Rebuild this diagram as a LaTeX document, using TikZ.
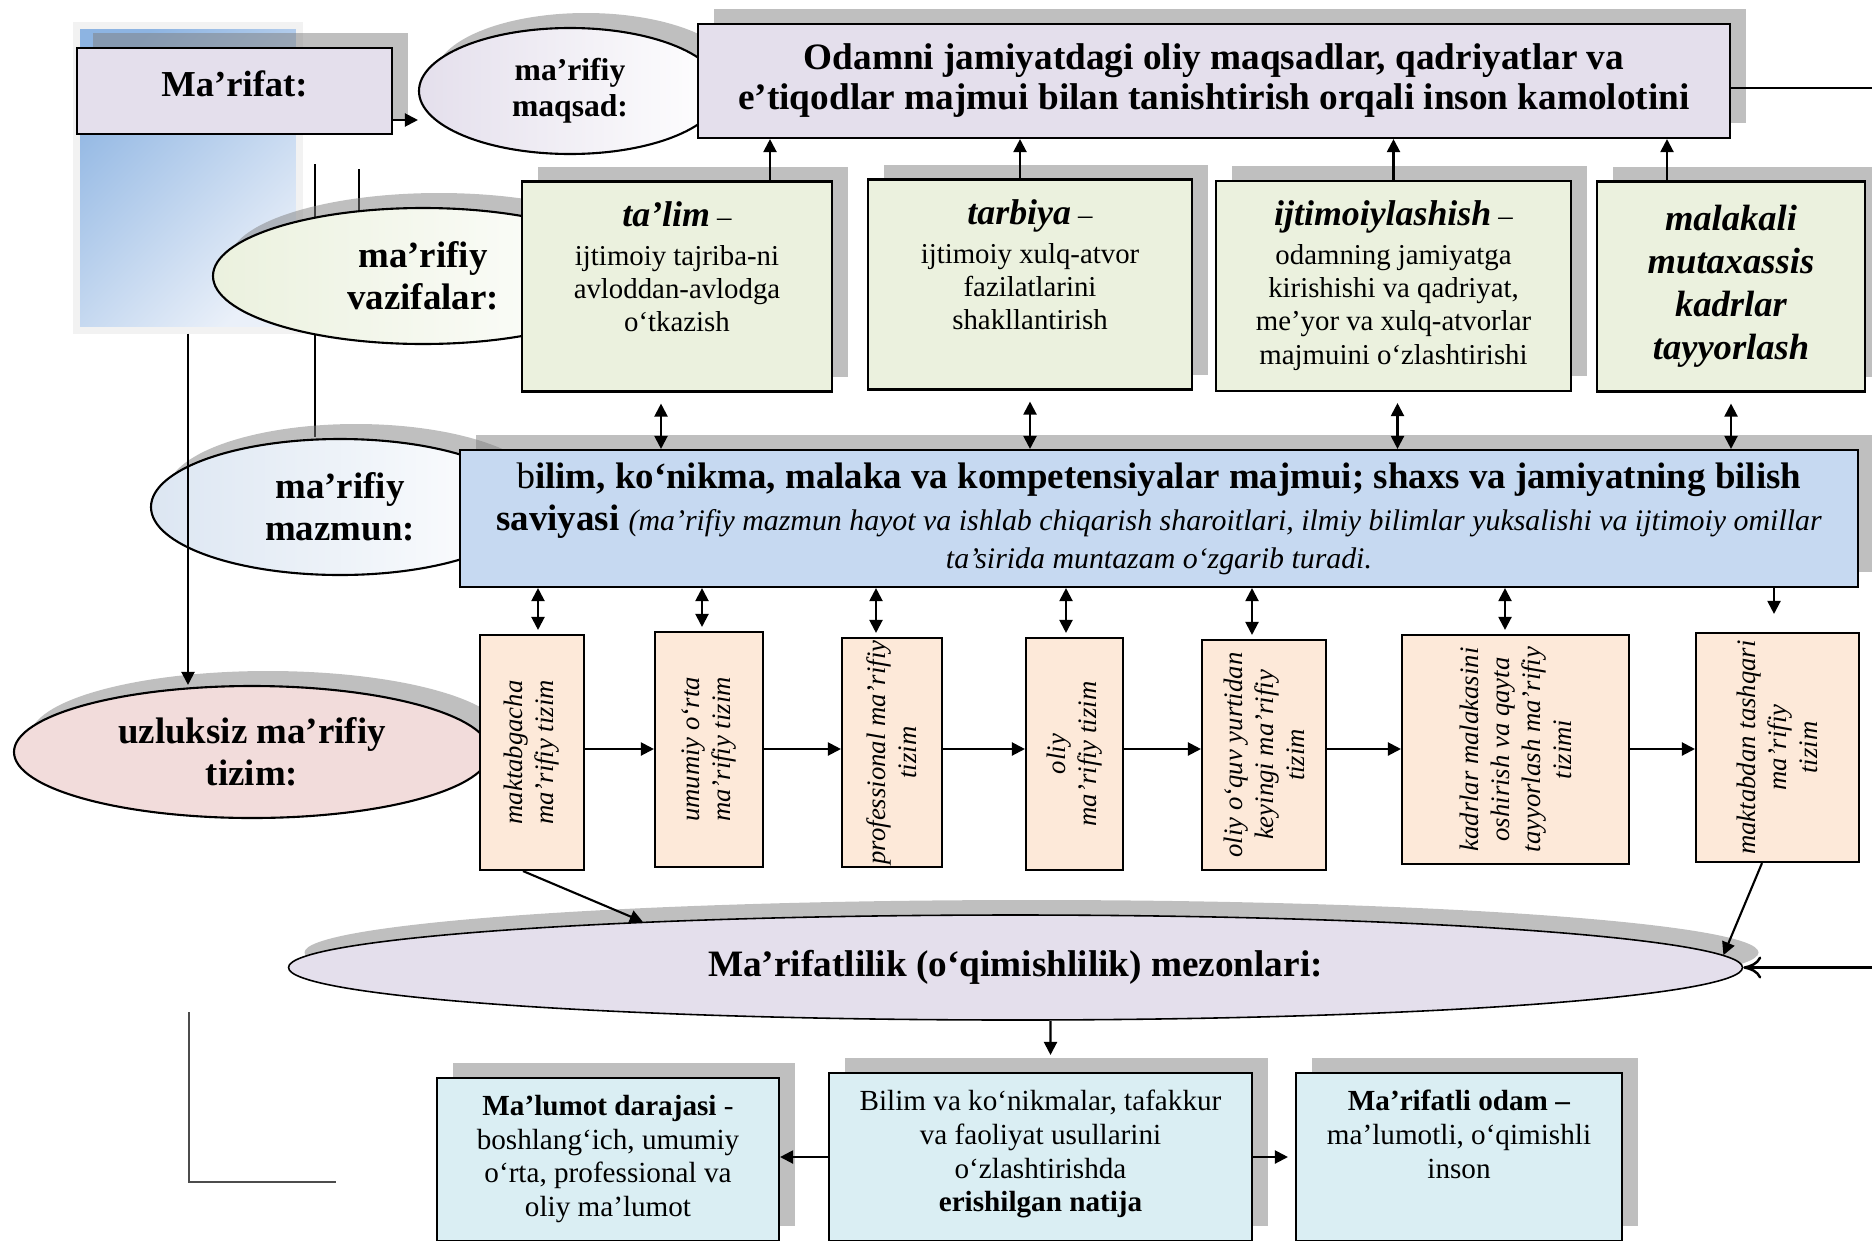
\documentclass[tikz,border=0pt]{standalone}
\usepackage{fontspec}
\setmainfont{Liberation Serif}
\usetikzlibrary{positioning,shadows,arrows.meta,shapes.geometric}

\definecolor{lav}{HTML}{E4DFEC}
\definecolor{grn}{HTML}{EBF1DE}
\definecolor{blu}{HTML}{C6D9F1}
\definecolor{blul}{HTML}{DCE6F2}
\definecolor{peach}{HTML}{FDE9D9}
\definecolor{pink}{HTML}{F2DCDB}
\definecolor{aqua}{HTML}{DAEEF3}
\definecolor{pan1}{HTML}{8DB4E2}
\definecolor{pan2}{HTML}{EAF0F9}
\definecolor{frame}{HTML}{F2F2F2}

\newcommand{\fsz}[2]{\fontsize{#1}{#2}\selectfont}
\newcommand{\ttl}[1]{{\fsz{10.2}{11}\bfseries\itshape #1}}

\begin{document}
\begin{tikzpicture}[x=0.1mm, y=-0.1mm, line width=0.6pt,
    shd/.style={drop shadow={shadow xshift=1.6mm, shadow yshift=1.5mm, fill=gray, opacity=.5}},
    box/.style={rectangle, draw, inner sep=0pt, shd},
    oval/.style={ellipse, draw, inner sep=0pt, align=center, shd},
    sbox/.style={rectangle, draw, inner sep=0pt, fill=peach},
    arr/.style={-{Triangle[length=1.3mm,width=1.3mm]}},
    dbl/.style={{Triangle[length=1.3mm,width=1.3mm]}-{Triangle[length=1.3mm,width=1.3mm]}},
    vtxt/.style={rotate=90, align=center, inner sep=0pt, font=\fsz{7.6}{8.8}\itshape},
    gtxt/.style={align=center, inner sep=0pt, font=\fsz{8.2}{9.4}},
    btxt/.style={align=center, inner sep=0pt, font=\fsz{8.3}{9.6}}]

        \useasboundingbox (0,0) rectangle (1872,1240);

        \node[draw=frame, line width=0.7mm, top color=pan1, bottom color=pan2, shading angle=45,
              minimum width=22.3mm, minimum height=30.5mm] (p) at (188,177.5) {};

        \coordinate (c1) at (315,164);
        \coordinate (c2) at (315,437);
        \coordinate (c3) at (359,169);
        \coordinate (c4) at (359,214);
        \draw (c1) -- (c2);
        \draw (c3) -- (c4);

        \node[box, fill=lav, minimum width=31.5mm, minimum height=8.6mm, font=\fsz{10.4}{12}\bfseries] (m) at (234.5,91) {\raisebox{1.4mm}{Ma’rifat:}};
        \node[oval, left color=lav, right color=white, minimum width=30.2mm, minimum height=12.6mm, font=\fsz{9}{10.2}\bfseries] (q) at (570,91) {ma’rifiy\\maqsad:};
        \node[box, fill=lav, align=center, minimum width=103.2mm, minimum height=11.4mm, font=\fsz{10.6}{11.4}\bfseries] (g) at (1214,81)
          {Odamni jamiyatdagi oliy maqsadlar, qadriyatlar va\\e’tiqodlar majmui bilan tanishtirish orqali inson kamolotini};

        \node[oval, left color=grn, right color=white, minimum width=42mm, minimum height=13.6mm, font=\fsz{10.5}{12}\bfseries] (z) at (423,276) {ma’rifiy\\vazifalar:};

        \begin{scope}[every node/.style={box, fill=grn, minimum height=21mm}]
          \node[minimum width=31mm] (v1) at (677,286.5) {};
          \node[minimum width=32.4mm] (v2) at (1030,284.5) {};
          \node[minimum width=35.5mm] (v3) at (1393.5,286) {};
          \node[minimum width=26.8mm, align=center, font=\fsz{10.4}{12.2}\bfseries\itshape] (v4) at (1731,286.5)
            {malakali\\mutaxassis\\kadrlar\\tayyorlash};
        \end{scope}

        \node[gtxt, below=2mm of v1.north] (t1) {\ttl{ta’lim} –\\[1.7pt]ijtimoiy tajriba-ni\\avloddan-avlodga\\o‘tkazish};
        \node[gtxt, below=2mm of v2.north] (t2) {\ttl{tarbiya} –\\[1.7pt]ijtimoiy xulq-atvor\\fazilatlarini\\shakllantirish};
        \node[gtxt, below=2mm of v3.north] (t3) {\ttl{ijtimoiylashish} –\\[1.7pt]odamning jamiyatga\\kirishishi va qadriyat,\\me’yor va xulq-atvorlar\\majmuini o‘zlashtirishi};

        \node[oval, left color=blul, right color=white, minimum width=37.8mm, minimum height=13.6mm, font=\fsz{10.5}{12}\bfseries] (n) at (340,507) {ma’rifiy\\mazmun:};
        \node[box, fill=blu, align=center, minimum width=139.8mm, minimum height=13.7mm, font=\fsz{10.5}{12.2}] (b) at (1159,518.5)
          {b\textbf{ilim, ko‘nikma, malaka va kompetensiyalar majmui; shaxs va jamiyatning bilish}\\
           \textbf{saviyasi} {\fsz{8.5}{10}\itshape (ma’rifiy mazmun hayot va ishlab chiqarish sharoitlari, ilmiy bilimlar yuksalishi va ijtimoiy omillar}\\[-1.6pt]
           {\fsz{8.5}{10}\itshape ta’sirida muntazam o‘zgarib turadi.}};

        \node[oval, fill=pink, minimum width=47.6mm, minimum height=13.2mm, font=\fsz{10.5}{12}\bfseries] (u) at (252,752) {uzluksiz ma’rifiy\\tizim:};

        \begin{scope}[every node/.style={sbox}]
          \node[minimum width=10.4mm, minimum height=23.5mm] (s1) at (532,752.5) {};
          \node[minimum width=10.8mm, minimum height=23.5mm] (s2) at (709,749.5) {};
          \node[minimum width=10mm, minimum height=22.9mm] (s3) at (892,752.5) {};
          \node[minimum width=9.7mm, minimum height=23.2mm] (s4) at (1074.5,754) {};
          \node[minimum width=12.4mm, minimum height=23mm] (s5) at (1264,755) {};
          \node[minimum width=22.7mm, minimum height=22.9mm] (s6) at (1515.5,749.5) {};
          \node[minimum width=16.3mm, minimum height=22.9mm] (s7) at (1777.5,747.5) {};
        \end{scope}

        \node[vtxt] (l1) at (s1) {maktabgacha\\ma’rifiy tizim};
        \node[vtxt] (l2) at (s2) {umumiy o‘rta\\ma’rifiy tizim};
        \node[vtxt] (l3) at (s3) {professional ma’rifiy\\tizim};
        \node[vtxt] (l4) at (s4) {oliy\\ma’rifiy tizim};
        \node[vtxt] (l5) at (s5) {oliy o‘quv yurtidan\\keyingi ma’rifiy\\tizim};
        \node[vtxt] (l6) at (s6) {kadrlar malakasini\\oshirish va qayta\\tayyorlash ma’rifiy\\tizimi};
        \node[vtxt] (l7) at (s7) {maktabdan tashqari\\ma’rifiy\\tizim};

        \node[oval, fill=lav, line width=0.45pt, minimum width=145.4mm, minimum height=10.5mm, font=\fsz{10.6}{12}\bfseries] (k) at (1015.5,967.5)
          {Ma’rifatlilik (o‘qimishlilik) mezonlari:};

        \begin{scope}[every node/.style={box, fill=aqua}]
          \node[minimum width=34.2mm, minimum height=16.3mm] (d1) at (608,1159.5) {};
          \node[minimum width=42.3mm, minimum height=16.8mm] (d2) at (1040.5,1157) {};
          \node[minimum width=32.6mm, minimum height=16.8mm] (d3) at (1459,1157) {};
        \end{scope}

        \node[btxt, below=1.7mm of d1.north] (e1) {\textbf{Ma’lumot darajasi} -\\boshlang‘ich, umumiy\\o‘rta, professional va\\oliy ma’lumot};
        \node[btxt, below=1.7mm of d2.north] (e2) {Bilim va ko‘nikmalar, tafakkur\\va faoliyat usullarini\\o‘zlashtirishda\\\textbf{erishilgan natija}};
        \node[btxt, below=1.7mm of d3.north] (e3) {\textbf{Ma’rifatli odam –}\\ma’lumotli, o‘qimishli\\inson};

        \draw[arr] ([yshift=-2.9mm]m.east) -- ([yshift=-2.9mm]m.east -| q.west);
        \draw[arr] (p.south) -- (p.south |- u.north);

        \draw[arr] ([xshift=9.3mm]v1.north) -- ([xshift=9.3mm]v1.north |- g.south);
        \draw[arr] ([xshift=-1mm]v2.north) -- ([xshift=-1mm]v2.north |- g.south);
        \draw[arr] (v3.north) -- (v3.north |- g.south);
        \draw[arr] ([xshift=-6.4mm]v4.north) -- ([xshift=-6.4mm]v4.north |- g.south);

        \draw[dbl, shorten <=1.1mm] ([xshift=-1.6mm]v1.south) -- ([xshift=-1.6mm]v1.south |- b.north);
        \draw[dbl, shorten <=1.1mm] (v2.south) -- (v2.south |- b.north);
        \draw[dbl, shorten <=1.1mm] ([xshift=0.4mm]v3.south) -- ([xshift=0.4mm]v3.south |- b.north);
        \draw[dbl, shorten <=1.1mm] (v4.south) -- (v4.south |- b.north);

        \draw[dbl, shorten >=0.4mm] ([xshift=0.6mm]s1.north |- b.south) -- ([xshift=0.6mm]s1.north);
        \draw[dbl, shorten >=0.4mm] ([xshift=-0.7mm]s2.north |- b.south) -- ([xshift=-0.7mm]s2.north);
        \draw[dbl, shorten >=0.4mm] ([xshift=-1.6mm]s3.north |- b.south) -- ([xshift=-1.6mm]s3.north);
        \draw[dbl, shorten >=0.4mm] ([xshift=-0.85mm]s4.north |- b.south) -- ([xshift=-0.85mm]s4.north);
        \draw[dbl, shorten >=0.4mm] ([xshift=-1.2mm]s5.north |- b.south) -- ([xshift=-1.2mm]s5.north);
        \draw[dbl, shorten >=0.4mm] ([xshift=-1.05mm]s6.north |- b.south) -- ([xshift=-1.05mm]s6.north);
        \draw[arr, shorten >=1.8mm] ([xshift=-0.35mm]s7.north |- b.south) -- ([xshift=-0.35mm]s7.north);

        \coordinate (r) at (0,749);
        \draw[arr] (s1.east |- r) -- (s2.west |- r);
        \draw[arr] (s2.east |- r) -- (s3.west |- r);
        \draw[arr] (s3.east |- r) -- (s4.west |- r);
        \draw[arr] (s4.east |- r) -- (s5.west |- r);
        \draw[arr] (s5.east |- r) -- (s6.west |- r);
        \draw[arr] (s6.east |- r) -- (s7.west |- r);

        \draw[arr] ([xshift=-0.9mm]s1.south) -- (k.173.9);
        \draw[arr] ([xshift=-1.55mm]s7.south) -- (k.1.6);

        \coordinate (e) at (1900,500);
        \draw[line width=0.7pt, -{To[length=1.8mm,width=2.2mm]}] ([yshift=-0.7mm]g.east) -| (e) |- (k.-0.76);

        \draw[arr, shorten >=1.7mm] ([xshift=3.5mm]k.south) -- ([xshift=1mm]d2.north);
        \draw[arr] (d2.west) -- (d2.west -| d1.east);
        \draw[arr, shorten >=0.7mm] (d2.east) -- (d2.east -| d3.west);

        \coordinate (c5) at (189,1012);
        \coordinate (c6) at (189,1182);
        \coordinate (c7) at (336,1182);
        \draw[line width=0.4pt, black!70] (c5) -- (c6) -- (c7);

      \end{tikzpicture}
\end{document}
